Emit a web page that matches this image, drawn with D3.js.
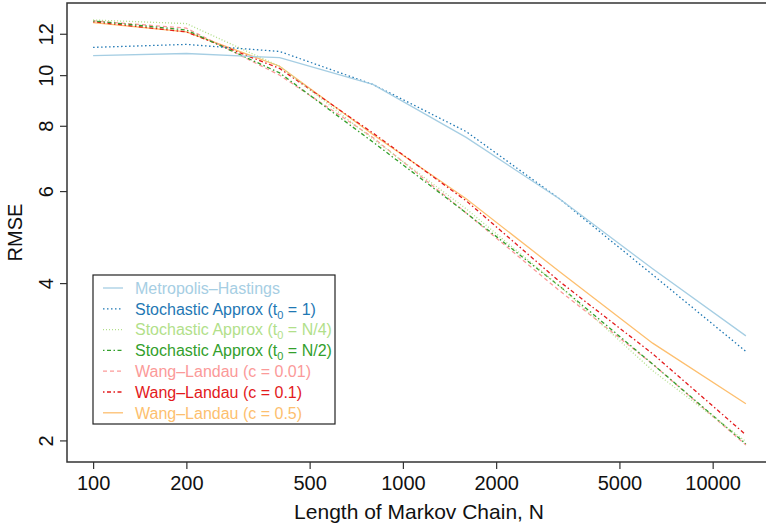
<!DOCTYPE html>
<html>
<head>
<meta charset="utf-8">
<script src="https://cdn.jsdelivr.net/npm/d3@7"></script>
<style>
  body { margin: 0; background: #fff; }
  svg { display: block; font-family: "Liberation Sans", Arial, Helvetica, sans-serif; }
</style>
</head>
<body>
<svg id="chart"></svg>
<script>
// chain lengths N (x axis, log scale)
const chainLengths = [100, 200, 400, 800, 1600, 3200, 6400, 12800];

// RMSE per method
const mhRmse = [10.9, 11.0, 10.8, 9.6, 7.6, 5.8, 4.26, 3.17];
const saT1Rmse = [11.3, 11.45, 11.1, 9.6, 7.8, 5.8, 4.15, 2.96];
const saN4Rmse = [12.75, 12.55, 10.4, 7.55, 5.55, 3.95, 2.72, 1.99];
const saN2Rmse = [12.7, 12.2, 10.1, 7.45, 5.45, 3.95, 2.8, 1.97];
const wl001Rmse = [12.7, 12.3, 10.0, 7.6, 5.45, 3.87, 2.8, 1.96];
const wl01Rmse = [12.65, 12.1, 10.3, 7.75, 5.75, 4.03, 2.93, 2.05];
const wl05Rmse = [12.6, 12.1, 10.4, 7.7, 5.8, 4.21, 3.07, 2.35];

const xTicks = [100, 200, 500, 1000, 2000, 5000, 10000];
const yTicks = [2, 4, 6, 8, 10, 12];

const series = [
  { name: 'Metropolis\u2013Hastings', values: mhRmse, color: '#a6cee3', dash: null },
  { name: 'Stochastic Approx (t', sub: '0', tail: ' = 1)', values: saT1Rmse, color: '#1f78b4', dash: '1.5,2.5' },
  { name: 'Stochastic Approx (t', sub: '0', tail: ' = N/4)', values: saN4Rmse, color: '#b2df8a', dash: '1,2' },
  { name: 'Stochastic Approx (t', sub: '0', tail: ' = N/2)', values: saN2Rmse, color: '#33a02c', dash: '1.5,2.5,4,2.5' },
  { name: 'Wang\u2013Landau (c = 0.01)', values: wl001Rmse, color: '#fb9a99', dash: '4,3' },
  { name: 'Wang\u2013Landau (c = 0.1)', values: wl01Rmse, color: '#e31a1c', dash: '1.5,2.5,4,2.5' },
  { name: 'Wang\u2013Landau (c = 0.5)', values: wl05Rmse, color: '#fdbf6f', dash: null }
];

const W = 766, H = 529;
const margin = { top: 3, left: 67, bottom: 67 };
const plotRight = 772; // R box sits just off the right edge

const svg = d3.select('#chart').attr('width', W).attr('height', H);

// R style 4% padding on log range
function padLog(ext) {
  const a = Math.log10(ext[0]), b = Math.log10(ext[1]);
  const p = (b - a) * 0.04;
  return [Math.pow(10, a - p), Math.pow(10, b + p)];
}

const allY = series.flatMap(s => s.values);
const x = d3.scaleLog()
  .domain(padLog(d3.extent(chainLengths)))
  .range([margin.left, plotRight]);
const y = d3.scaleLog()
  .domain(padLog(d3.extent(allY)))
  .range([H - margin.bottom, margin.top]);

// lines
const line = d3.line()
  .x((d, i) => x(chainLengths[i]))
  .y(d => y(d));

const gLines = svg.append('g').attr('class', 'lines');
series.slice().reverse().forEach(s => {
  gLines.append('path')
    .attr('d', line(s.values))
    .attr('fill', 'none')
    .attr('stroke', s.color)
    .attr('stroke-width', 1.3)
    .attr('stroke-dasharray', s.dash);
});

// box (left, top, bottom)
svg.append('path')
  .attr('d', `M${plotRight},${margin.top}H${margin.left}V${H - margin.bottom}H${plotRight}`)
  .attr('fill', 'none')
  .attr('stroke', '#333')
  .attr('stroke-width', 1.5);

// x axis
const xAxis = svg.append('g')
  .attr('transform', `translate(0,${H - margin.bottom})`)
  .call(d3.axisBottom(x).tickValues(xTicks).tickFormat(d3.format('d')).tickSize(7).tickPadding(7));
xAxis.select('.domain').remove();
xAxis.selectAll('line').attr('stroke', '#333').attr('stroke-width', 1.2);
xAxis.selectAll('text').attr('font-size', 20).attr('fill', '#111');

// y axis, labels parallel to axis
const yAxis = svg.append('g')
  .attr('transform', `translate(${margin.left},0)`)
  .call(d3.axisLeft(y).tickValues(yTicks).tickFormat(d3.format('d')).tickSize(7));
yAxis.select('.domain').remove();
yAxis.selectAll('line').attr('stroke', '#333').attr('stroke-width', 1.2);
yAxis.selectAll('text')
  .attr('font-size', 20)
  .attr('fill', '#111')
  .attr('x', null).attr('dy', null)
  .attr('text-anchor', 'middle')
  .attr('transform', 'translate(-14,0) rotate(-90)');

// axis titles
svg.append('text')
  .attr('x', 419)
  .attr('y', 519)
  .attr('text-anchor', 'middle')
  .attr('font-size', 21)
  .attr('fill', '#111')
  .text('Length of Markov Chain, N');

svg.append('text')
  .attr('transform', `translate(22,${(margin.top + H - margin.bottom) / 2}) rotate(-90)`)
  .attr('text-anchor', 'middle')
  .attr('font-size', 20)
  .attr('fill', '#111')
  .text('RMSE');

// legend
const legend = svg.append('g').attr('transform', 'translate(93,275)');
legend.append('rect')
  .attr('width', 242).attr('height', 149)
  .attr('fill', '#fff').attr('stroke', '#222').attr('stroke-width', 1.2);

series.forEach((s, i) => {
  const row = legend.append('g').attr('transform', `translate(0,${13 + i * 20.8})`);
  row.append('line')
    .attr('x1', 10).attr('x2', 30)
    .attr('stroke', s.color).attr('stroke-width', 1.3)
    .attr('stroke-dasharray', s.dash);
  const t = row.append('text')
    .attr('x', 42).attr('dy', '0.36em')
    .attr('font-size', 16)
    .attr('fill', s.color);
  t.append('tspan').text(s.name);
  if (s.sub) {
    t.append('tspan').attr('font-size', 11).attr('dy', 4).text(s.sub);
    t.append('tspan').attr('dy', -4).text(s.tail);
  }
});
</script>
</body>
</html>
